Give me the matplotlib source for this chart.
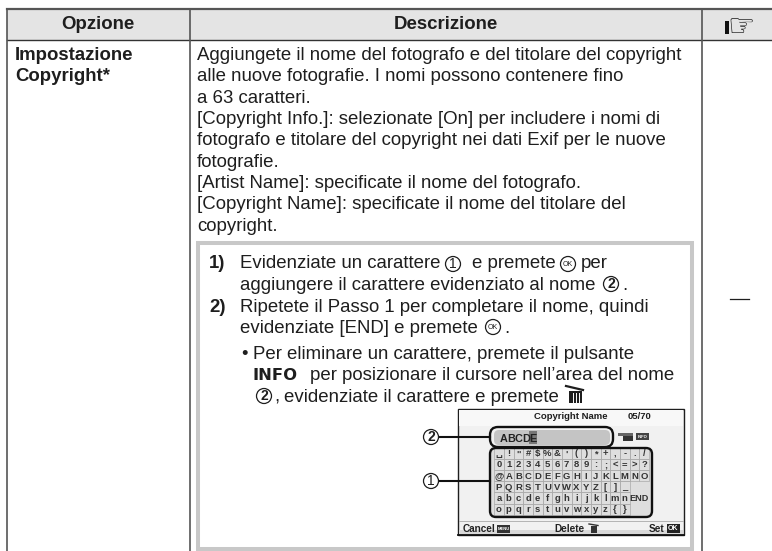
import matplotlib
matplotlib.use('Agg')
import matplotlib.pyplot as plt
from matplotlib.patches import Rectangle, FancyBboxPatch, Circle

plt.rcParams['font.family'] = ['Liberation Sans', 'DejaVu Sans']

header = ['Opzione', 'Descrizione']
option_lines = ['Impostazione', 'Copyright*']
body_lines = [
    'Aggiungete il nome del fotografo e del titolare del copyright',
    'alle nuove fotografie. I nomi possono contenere fino',
    'a 63 caratteri.',
    '[Copyright Info.]: selezionate [On] per includere i nomi di',
    'fotografo e titolare del copyright nei dati Exif per le nuove',
    'fotografie.',
    '[Artist Name]: specificate il nome del fotografo.',
    '[Copyright Name]: specificate il nome del titolare del',
    'copyright.',
]
keys = [
    ['␣', '!', '"', '#', '$', '%', '&', "'", '(', ')', '*', '+', ',', '-', '.', '/'],
    list('0123456789') + [':', ';', '<', '=', '>', '?'],
    list('@ABCDEFGHIJKLMNO'),
    list('PQRSTUVWXYZ') + ['[', ']', '_'],
    list('abcdefghijklmn'),
    list('opqrstuvwxyz') + ['{', '}'],
]

fig = plt.figure(figsize=(7.72, 5.51), dpi=100)
ax = fig.add_axes([0, 0, 1, 1])
ax.set_xlim(0, 772)
ax.set_ylim(551, 0)
ax.axis('off')

dark = '#333333'
txt = '#1e1e1e'
FS = 13.4

def t(x, y, s, size=FS, **kw):
    kw.setdefault('va', 'baseline')
    kw.setdefault('color', txt)
    ax.text(x, y, s, fontsize=size, **kw)

def circ(x, y, s, r=7.5, size=10, **kw):
    ax.add_patch(Circle((x, y), r, fc='white', ec=txt, lw=0.9, zorder=4))
    t(x, y + 0.3, s, size=size, ha='center', va='center', zorder=5, **kw)

# table frame, runs off the right edge
ax.add_patch(Rectangle((7, 9), 765, 31, fc='#e4e4e4', ec='none'))
ax.plot([7, 772], [9, 9], color='#555555', lw=1.6)
ax.plot([7, 772], [40, 40], color=dark, lw=1.0)
for x in [7, 190, 702]:
    ax.plot([x, x], [9, 551], color='#555555', lw=1.2)

t(98, 29, header[0], size=13.4, weight='bold', ha='center')
t(446, 29, header[1], size=13.4, weight='bold', ha='center')
t(741, 27.5, '\u261e', size=22, ha='center', va='center', family='DejaVu Sans', color='#111111')
ax.add_patch(Rectangle((725, 21), 3.5, 13, fc='#111111', ec='none', zorder=4))

for i, s in enumerate(option_lines):
    t(15, 60 + 21.4 * i, s, weight='bold')
for i, s in enumerate(body_lines):
    t(197, 60 + 21.35 * i, s)

# grey step box
ax.add_patch(Rectangle((198, 243), 494, 305.5, fc='none', ec='#c8c8c8', lw=2.9))
t(209, 268.5, '1)', weight='bold')
t(240, 268.5, 'Evidenziate un carattere')
circ(453, 264, '1')
t(472, 268.5, 'e premete')
circ(568, 264, 'OK', size=5)
t(581, 268.5, 'per')
t(240, 290, 'aggiungere il carattere evidenziato al nome')
circ(611, 284, '2', weight='bold')
t(622, 290, '.')
t(209, 311.7, '2)', weight='bold')
t(240, 311.7, 'Ripetete il Passo 1 per completare il nome, quindi')
t(240, 332.7, 'evidenziate [END] e premete')
circ(493, 327, 'OK', size=5)
t(504, 332.7, '.')
t(241, 359.3, '•')
t(253, 359.3, 'Per eliminare un carattere, premete il pulsante')
t(253, 380, 'INFO', size=11.8, weight='bold', family='DejaVu Sans')
t(310, 380, 'per posizionare il cursore nell’area del nome')
circ(264, 396, '2', weight='bold')
t(274, 401.6, ',')
t(284, 401.6, 'evidenziate il carattere e premete')
# trash icon
ax.add_patch(Rectangle((569, 391), 13, 12, fc=txt, ec='none', zorder=3))
for x in [572.5, 575.5, 578.5]:
    ax.plot([x, x], [393, 402], color='white', lw=0.7, zorder=4)
ax.plot([566, 583], [386, 390], color=txt, lw=1.6)

# camera screen
ax.add_patch(Rectangle((458, 409), 226, 126, fc='#f1f1f1', ec=txt, lw=1.0, zorder=2))
ax.add_patch(Rectangle((459, 410), 224, 16, fc='#f8f8f8', ec='none', zorder=2))
ax.add_patch(Rectangle((459, 530), 224, 4, fc='#d8d8d8', ec='none', zorder=2))
ax.plot([459, 683], [521, 521], color='#aaaaaa', lw=0.6, zorder=3)
ax.plot([458, 684], [535, 535], color='#111111', lw=1.3, zorder=3)
t(571, 419, 'Copyright Name', size=6.8, weight='bold', ha='center', zorder=5)
t(640, 419, '05/70', size=6.8, weight='bold', ha='center', zorder=5)

# name field
ax.add_patch(FancyBboxPatch((494, 430), 116, 15, boxstyle='round,pad=0,rounding_size=5',
                            fc='#c4c4c4', ec='none', zorder=3))
ax.add_patch(FancyBboxPatch((490, 427), 123, 20, boxstyle='round,pad=0,rounding_size=8',
                            fc='none', ec='#111111', lw=1.7, zorder=4))
ax.add_patch(Rectangle((529, 431), 8, 13, fc='#777777', ec='none', zorder=4))
for i, ch_ in enumerate('ABCDE'):
    t(500 + 7.4 * i, 442, ch_, size=7.8, weight='bold', zorder=5, color='#222222')
ax.add_patch(Rectangle((618, 433), 15, 3, fc='#666666', ec='none', zorder=4))
ax.add_patch(Rectangle((623, 436), 10, 5, fc='#333333', ec='none', zorder=4))
ax.add_patch(Rectangle((636, 433), 13, 7, fc='#444444', ec='none', zorder=4))
t(642.5, 436.5, 'INFO', size=3, color='white', ha='center', va='center', weight='bold', zorder=5)

# keyboard grid
gx, gy, cw, ch = 494.2, 448, 9.67, 11.1
ax.add_patch(FancyBboxPatch((490, 448), 162, 69, boxstyle='round,pad=0,rounding_size=6',
                            fc='#dedede', ec='none', zorder=3))
for r, row in enumerate(keys):
    for c, k in enumerate(row):
        ax.add_patch(Rectangle((gx + c * cw, gy + r * ch), cw, ch, fc='none', ec='#aaaaaa',
                               lw=0.5, zorder=4))
        t(gx + (c + 0.5) * cw, gy + (r + 0.5) * ch + 0.3, k, size=6.8, weight='bold', ha='center',
          va='center', color='#333333', zorder=5)
t(gx + 15 * cw, gy + 4.5 * ch + 0.3, 'END', size=6.6, weight='bold', ha='center', va='center',
  zorder=5, color='#333333')
ax.add_patch(FancyBboxPatch((490, 448), 162, 69, boxstyle='round,pad=0,rounding_size=6',
                            fc='none', ec='#111111', lw=1.7, zorder=6))

# leader lines and callouts
ax.plot([438, 490], [437, 437], color='#111111', lw=1.5, zorder=3)
ax.plot([438, 490], [481, 481], color='#111111', lw=1.5, zorder=3)
circ(431, 437, '2', weight='bold')
circ(431, 481, '1')

# bottom bar
t(463, 532, 'Cancel', size=7.2, weight='bold', zorder=5, color='#222222')
ax.add_patch(Rectangle((497, 525), 13, 7.5, fc='#333333', ec='none', zorder=4))
t(503.5, 528.8, 'MENU', size=3, color='white', weight='bold', ha='center', va='center', zorder=5)
t(554, 532, 'Delete', size=7.2, weight='bold', zorder=5, color='#222222')
ax.add_patch(Rectangle((591, 526), 5.5, 7, fc='#333333', ec='none', zorder=4))
ax.plot([589, 598], [524, 525.5], color='#333333', lw=1, zorder=4)
t(649, 532, 'Set', size=7.2, weight='bold', zorder=5, color='#222222')
ax.add_patch(Rectangle((667, 524), 13, 9, fc='#222222', ec='none', zorder=4))
t(673.5, 528.5, 'OK', size=5, color='white', weight='bold', ha='center', va='center', zorder=5)

# dash in last column
ax.plot([730, 749], [299, 299], color=txt, lw=0.9)

plt.savefig('out.png', dpi=100)
